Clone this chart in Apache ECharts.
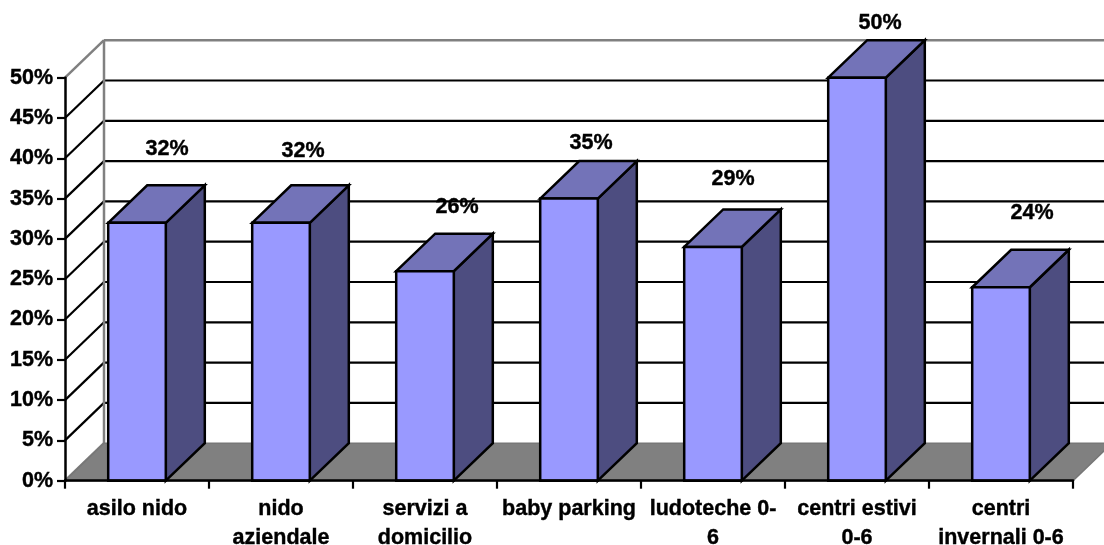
<!DOCTYPE html>
<html><head><meta charset="utf-8">
<style>html,body{margin:0;padding:0;background:#fff;overflow:hidden}#c{width:1104px;height:545px}</style>
<script src="https://cdn.jsdelivr.net/npm/echarts@6/dist/echarts.min.js"></script>
</head><body><div id="c"></div>
<script>
const categories = ['asilo nido','nido\naziendale','servizi a\ndomicilio','baby parking','ludoteche 0-\n6','centri estivi\n0-6','centri\ninvernali 0-6'];
const values = [32,32,26,35,29,50,24];
const yTicks = [0,5,10,15,20,25,30,35,40,45,50];
// where each data label sits relative to its bar's front-top centre
const labelNudge = [[30,-74],[22,-72],[32,-64],[22,-56],[20,-68],[23,-55],[31,-74]];

const FONT = '"Liberation Sans", Arial, sans-serif';
const FS = 21.5;
const DX = 39, DY = -37.5, GRAY = '#808080', BLACK = '#000';
const BAR_RATIO = 0.4;

function line(x1,y1,x2,y2,color,w){
  return {type:'line',shape:{x1,y1,x2,y2},style:{stroke:color,lineWidth:w,fill:null}};
}
function poly(pts,fill,stroke,w){
  return {type:'polygon',shape:{points:pts},style:{fill,stroke,lineWidth:w,lineJoin:'miter'}};
}
function renderFloor(params,api){
  const cs = params.coordSys, y0 = api.coord([0,0])[1], l = cs.x, r = cs.x+cs.width;
  return poly([[l,y0],[l+DX,y0+DY],[r+DX,y0+DY],[r,y0]],GRAY,'#777777',1.5);
}
function renderWall(params,api){
  const v = api.value(0), cs = params.coordSys, y = api.coord([0,v])[1], l = cs.x;
  const edge = v===0 || v===yTicks[yTicks.length-1];
  const col = edge ? GRAY : BLACK, w = edge ? 2.5 : 2.2;
  const kids = [line(l,y,l+DX,y+DY,col,w)];
  if(v!==0) kids.push(line(l+DX,y+DY,1104,y+DY,col,w));
  if(edge && v!==0) kids.push(line(l+DX,y+DY,l+DX,api.coord([0,0])[1]+DY,GRAY,2.5));
  return {type:'group',children:kids};
}
function renderBar(params,api){
  const i = api.value(0), v = api.value(1);
  const top = api.coord([i,v]), base = api.coord([i,0]);
  const band = api.size([1,0])[0], hw = band*BAR_RATIO/2;
  const x0 = top[0]-hw, x1 = top[0]+hw, yt = top[1], yb = base[1];
  const n = labelNudge[i];
  return {type:'group',children:[
    poly([[x1,yb],[x1+DX,yb+DY],[x1+DX,yt+DY],[x1,yt]],'#4D4D80',BLACK,2.5),
    poly([[x0,yt],[x0+DX,yt+DY],[x1+DX,yt+DY],[x1,yt]],'#7373B8',BLACK,2.5),
    poly([[x0,yb],[x1,yb],[x1,yt],[x0,yt]],'#9999FF',BLACK,2.5),
    {type:'text',style:{text:v+'%',x:top[0]+n[0],y:yt+n[1],align:'center',verticalAlign:'middle',
      fill:BLACK,stroke:BLACK,lineWidth:0.4,font:'bold '+FS+'px '+FONT}}
  ]};
}
const chart = echarts.init(document.getElementById('c'),null,{renderer:'canvas',width:1104,height:545});
chart.setOption({
  animation:false,
  backgroundColor:'#fff',
  grid:{left:65,top:77.7,width:1008,height:403,containLabel:false,outerBoundsMode:'none'},
  xAxis:{type:'category',data:categories,boundaryGap:true,z:10,
    axisLine:{lineStyle:{color:BLACK,width:2.5}},
    axisTick:{show:true,alignWithLabel:false,length:8,lineStyle:{color:BLACK,width:2.2}},
    axisLabel:{interval:0,color:BLACK,fontFamily:FONT,fontWeight:'bold',fontSize:FS,lineHeight:29,margin:14,
      textBorderColor:BLACK,textBorderWidth:0.4},
    splitLine:{show:false}},
  yAxis:{type:'value',min:0,max:50,interval:5,z:10,
    axisLine:{show:true,lineStyle:{color:BLACK,width:2.5}},
    axisTick:{show:true,length:8,lineStyle:{color:BLACK,width:2.2}},
    axisLabel:{color:BLACK,fontFamily:FONT,fontWeight:'bold',fontSize:FS,margin:12,formatter:'{value}%',
      textBorderColor:BLACK,textBorderWidth:0.4},
    splitLine:{show:false}},
  series:[
    {type:'custom',name:'walls',z:1,renderItem:renderWall,data:yTicks.map(v=>[v]),silent:true,clip:false},
    {type:'custom',name:'floor',z:2,renderItem:renderFloor,data:[[0]],silent:true,clip:false},
    {type:'custom',name:'bars',z:3,renderItem:renderBar,data:values.map((v,i)=>[i,v]),encode:{x:0,y:1},clip:false}
  ]
});
</script></body></html>
